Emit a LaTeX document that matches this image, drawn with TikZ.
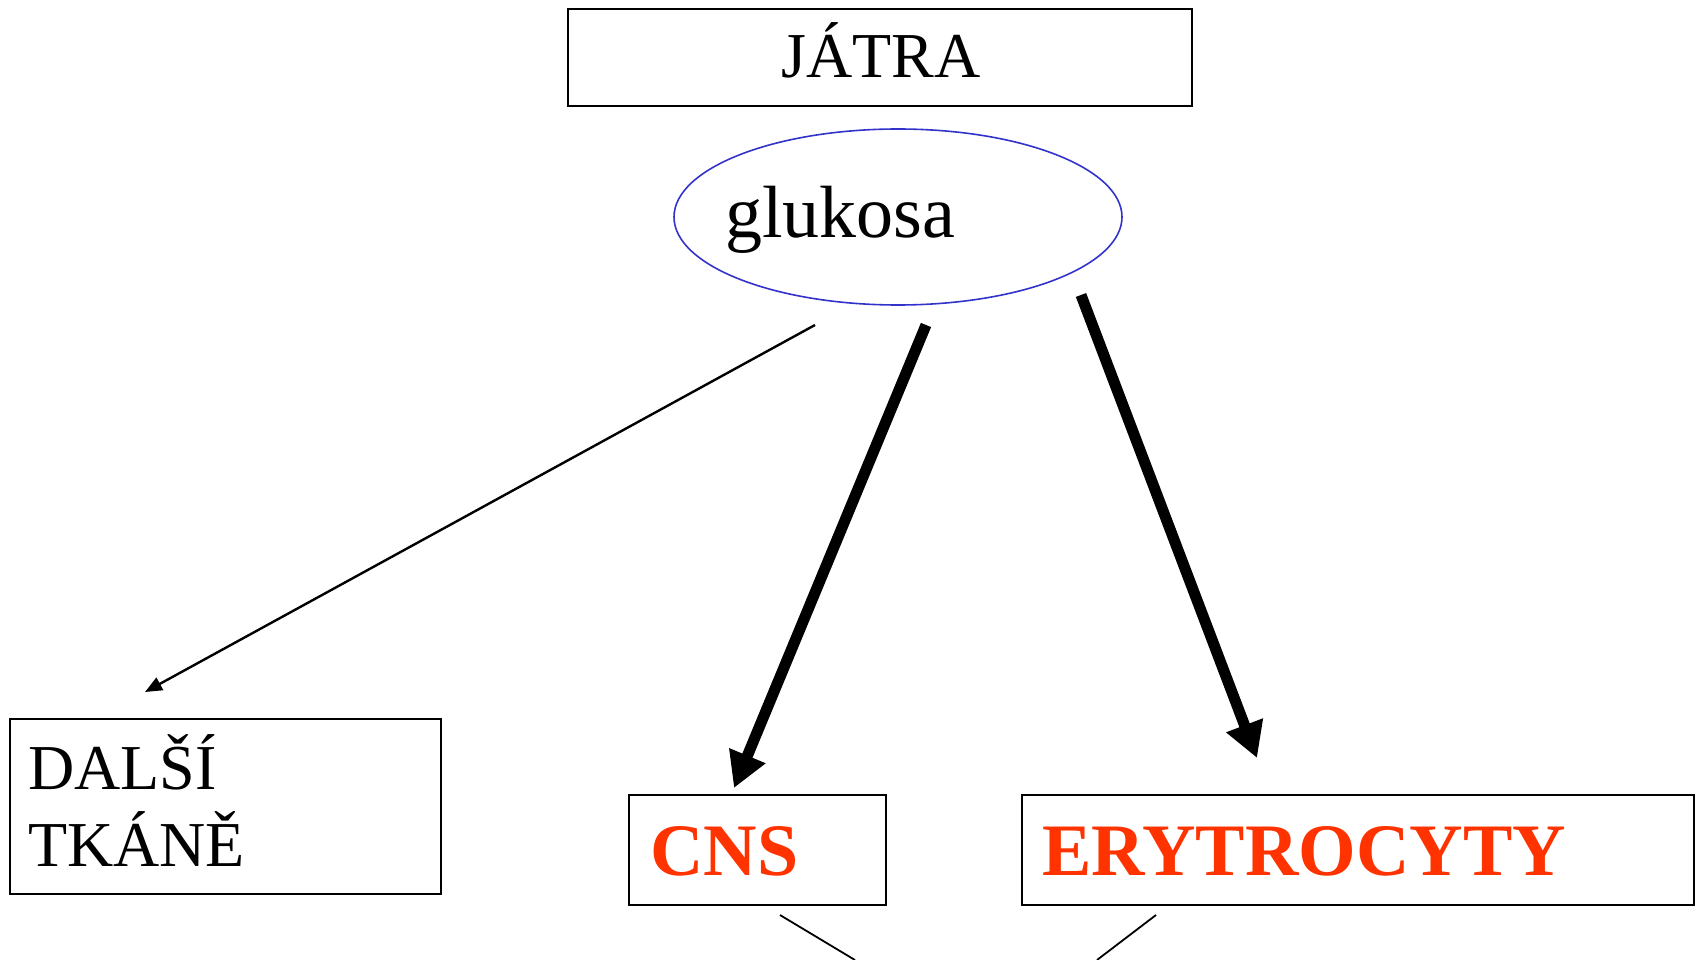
\documentclass[tikz,border=0pt]{standalone}
\usepackage{fontspec}
\setmainfont{Liberation Serif}
\usetikzlibrary{arrows.meta,shapes.geometric}
\definecolor{redtxt}{HTML}{FF3300}
\definecolor{ellblue}{HTML}{3333CC}
\tikzset{
  box/.style={draw=black, line width=2pt, inner sep=0pt, anchor=north west},
  txt/.style={inner sep=0pt, anchor=base west, font=\fontsize{64}{76}\selectfont},
  redtxtstyle/.style={inner sep=0pt, anchor=base west, text=redtxt, font=\fontsize{74}{80}\selectfont\bfseries},
  thinarrow/.style={line width=2.4pt, -{Triangle[length=17pt,width=14pt]}},
  thickarrow/.style={line width=11pt, -{Triangle[length=35pt,width=37pt]}},
  plainline/.style={line width=1.8pt}
}
\begin{document}
\begin{tikzpicture}[x=1pt,y=-1pt]
\useasboundingbox (0,0) rectangle (1698,960);
\fill[white] (0,0) rectangle (1698,960);
% boxes
\node[box, minimum width=624pt, minimum height=97pt] (jatra) at (567,8) {};
\node[txt, anchor=base] (jatratext) at (881,78) {JÁTRA};
\node[ellipse, draw=ellblue, line width=1.6pt, inner sep=0pt, minimum width=448pt, minimum height=176pt] (glu) at (898,217) {};
\node[txt, font=\fontsize{74}{80}\selectfont] (glutext) at (725,238) {glukosa};
\node[box, minimum width=431pt, minimum height=175pt] (dalsibox) at (9,718) {};
\node[txt] (dalsi1) at (28,789) {DALŠÍ};
\node[txt] (dalsi2) at (28,866) {TKÁNĚ};
\node[box, minimum width=257pt, minimum height=110pt] (cnsbox) at (628,794) {};
\node[redtxtstyle] (cns) at (650,875) {CNS};
\node[box, minimum width=672pt, minimum height=110pt] (erybox) at (1021,794) {};
\node[redtxtstyle] (ery) at (1042,875) {ERYTROCYTY};
% arrows
\coordinate (a1s) at (815,325);
\coordinate (a1e) at (145,692);
\coordinate (a2s) at (926,325);
\coordinate (a2e) at (734,788);
\coordinate (a3s) at (1081,295);
\coordinate (a3e) at (1257,758);
\draw[thinarrow] (a1s) -- (a1e);
\draw[thickarrow] (a2s) -- (a2e);
\draw[thickarrow] (a3s) -- (a3e);
% lines leaving the bottom
\coordinate (b1s) at (780,915);
\coordinate (b1e) at (855,960);
\coordinate (b2s) at (1156,915);
\coordinate (b2e) at (1097,960);
\draw[plainline] (b1s) -- (b1e);
\draw[plainline] (b2s) -- (b2e);
\end{tikzpicture}
\end{document}
